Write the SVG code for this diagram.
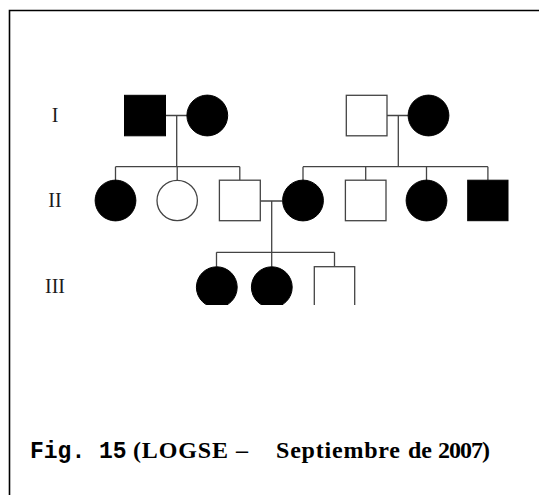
<svg xmlns="http://www.w3.org/2000/svg" width="539" height="495" viewBox="0 0 539 495">
<defs>
<style>
.ln{stroke:#444;stroke-width:1.3;fill:none}
.aff{fill:#000;stroke:#000;stroke-width:1}
.un{fill:#fff;stroke:#444;stroke-width:1.3}
.gen{font-family:"Liberation Serif","Times New Roman",serif;font-size:20px;fill:#1a1a1a;text-anchor:middle}
.cap1{font-family:"Liberation Mono","Courier New",monospace;font-weight:bold;font-size:23px;fill:#000}
.cap2{font-family:"Liberation Serif","Times New Roman",serif;font-weight:bold;font-size:24px;fill:#000}
</style>
<clipPath id="clip3"><rect x="0" y="0" width="539" height="305"/></clipPath>
</defs>
<rect x="0" y="0" width="539" height="495" fill="#fff"/>
<path d="M9.5 495 V10.5 H539" stroke="#000" stroke-width="1.6" fill="none"/>
<g id="labels">
<text class="gen" x="55" y="122">I</text>
<text class="gen" x="55" y="207">II</text>
<text class="gen" x="55" y="293">III</text>
</g>
<g id="connectors">
<path class="ln" d="M166 115.5 H187 M176.7 115.5 V166.7 M115.5 166.7 H239.8 M115.5 166.7 V180 M177.2 166.7 V180 M239.8 166.7 V180"/>
<path class="ln" d="M387 115.5 H408 M398.3 115.5 V166.7 M303 166.7 H487.9 M303 166.7 V180 M365.7 166.7 V180 M426.5 166.7 V180 M487.9 166.7 V180"/>
<path class="ln" d="M260.3 201 H282.5 M271.7 201 V252.3 M216.5 252.3 H334.5 M216.5 252.3 V266.7 M271.7 252.3 V266.7 M334.5 252.3 V266.7"/>
</g>
<g id="I-1"><rect class="aff" x="124.5" y="95.3" width="41" height="40.5"/></g>
<g id="I-2"><circle class="aff" cx="207.3" cy="115.5" r="20.4"/></g>
<g id="I-3"><rect class="un" x="346.3" y="95.3" width="40.7" height="40.5"/></g>
<g id="I-4"><circle class="aff" cx="428.5" cy="115.5" r="20.4"/></g>
<g id="II-1"><circle class="aff" cx="115.5" cy="200.5" r="20.4"/></g>
<g id="II-2"><circle class="un" cx="177.2" cy="200.5" r="20.2"/></g>
<g id="II-3"><rect class="un" x="219.4" y="180.2" width="40.9" height="40.5"/></g>
<g id="II-4"><circle class="aff" cx="303" cy="200.5" r="20.4"/></g>
<g id="II-5"><rect class="un" x="345.4" y="180.2" width="40.6" height="40.5"/></g>
<g id="II-6"><circle class="aff" cx="426.5" cy="200.5" r="20.4"/></g>
<g id="II-7"><rect class="aff" x="467.7" y="180.2" width="40.3" height="40.5"/></g>
<g id="III-1" clip-path="url(#clip3)"><circle class="aff" cx="216.8" cy="287.2" r="20.4"/></g>
<g id="III-2" clip-path="url(#clip3)"><circle class="aff" cx="271.8" cy="287.2" r="20.4"/></g>
<g id="III-3" clip-path="url(#clip3)"><rect class="un" x="314.3" y="266.7" width="40.4" height="50"/></g>
<g id="caption">
<text x="30" y="457.5"><tspan class="cap1">Fig. 15</tspan><tspan class="cap2" x="133" textLength="95">(LOGSE</tspan><tspan class="cap2" x="236">–</tspan><tspan class="cap2" x="276" textLength="124">Septiembre</tspan><tspan class="cap2" x="408" textLength="24">de</tspan><tspan class="cap2" x="438" textLength="52">2007)</tspan></text>
</g>
</svg>
